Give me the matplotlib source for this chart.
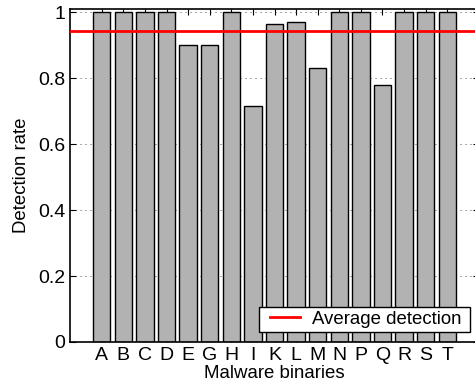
import matplotlib
matplotlib.use('Agg')
import matplotlib.pyplot as plt
from matplotlib.legend_handler import HandlerLine2D
import numpy as np

binarios = ['A', 'B', 'C', 'D', 'E', 'G', 'H', 'I', 'K', 'L', 'M', 'N', 'P', 'Q', 'R', 'S', 'T']
taxas = [1.0, 1.0, 1.0, 1.0, 0.9, 0.9, 1.0, 0.715, 0.965, 0.97, 0.83, 1.0, 1.0, 0.778, 1.0, 1.0, 1.0]
media = np.mean(taxas)

plt.rcParams['font.family'] = ['Liberation Sans', 'DejaVu Sans']
plt.rcParams['font.size'] = 13.4

fig = plt.figure(figsize=(4.75, 3.89), dpi=100)
ax = fig.add_axes([70 / 475, 1 - 342 / 389, 409 / 475, (342 - 9) / 389])

x = np.arange(1, len(binarios) + 1)
ax.bar(x, taxas, width=0.8, color='#b2b2b2', edgecolor='black', linewidth=1.0, zorder=2)
ax.axhline(media, color='red', linewidth=2, zorder=3, label='Average detection ')

ax.set_xlim(-0.47, 18.47)
ax.set_ylim(0, 1.01)
ax.set_xticks(x)
ax.set_xticklabels(binarios)
ax.set_yticks([0, 0.2, 0.4, 0.6, 0.8, 1])
ax.set_yticklabels(['0', '0.2', '0.4', '0.6', '0.8', '1'])
ax.tick_params(direction='in', top=True, right=True, length=4, width=0.8, labelsize=14)
ax.grid(True, axis='y', linestyle=(0, (1.25, 4.75)), color='#404040', linewidth=0.6, zorder=0)
ax.set_axisbelow(True)
for s in ax.spines.values():
    s.set_linewidth(1.2)

ax.set_xlabel('Malware binaries', labelpad=1)
ax.set_ylabel('Detection rate', labelpad=6)

leg = ax.legend(loc='lower right', bbox_to_anchor=(470 / 475, 1 - 331.7 / 389),
                bbox_transform=fig.transFigure, borderaxespad=0, fancybox=False,
                framealpha=1, edgecolor='black', handlelength=2.02, handletextpad=0.62,
                borderpad=0.2, handler_map={plt.Line2D: HandlerLine2D(xpad=0.376)})
leg.get_frame().set_linewidth(1.0)

fig.savefig('out.png', dpi=100)
